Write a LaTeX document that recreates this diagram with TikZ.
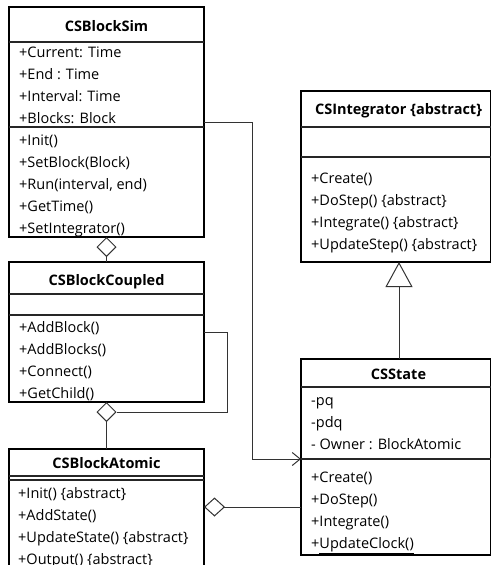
\documentclass[tikz,border=0pt]{standalone}
\usepackage{fontspec}
\setmainfont{Open Sans}
\usetikzlibrary{arrows.meta}
\begin{document}
\begin{tikzpicture}[x=1bp,y=-1bp,
  box/.style={draw=black, line width=1.8bp, inner sep=0pt, outer sep=0pt, anchor=north west},
  sep/.style={draw=black!85, line width=1.2bp},
  ttl/.style={font=\fontsize{14.5bp}{17bp}\selectfont\bfseries, inner sep=0pt, anchor=base},
  txt/.style={font=\fontsize{14.5bp}{17bp}\selectfont, inner sep=0pt, anchor=base west},
  conn/.style={draw=black!80, line width=1bp},
  agg/.style={conn, -{Diamond[open, length=20bp, width=20bp]}},
  aggh/.style={conn, -{Diamond[open, length=21bp, width=19bp]}},
  gen/.style={conn, -{Triangle[open, length=25bp, width=27bp]}},
  assoc/.style={conn, -{Straight Barb[length=8bp, width=13bp]}}
]
\useasboundingbox (0,0) rectangle (492,565);
\clip (0,0) rectangle (492,565);

% ---------- CSBlockSim ----------
\node[box, minimum width=195bp, minimum height=230bp] (sim) at (9,7) {};
\draw[sep] (sim.west |- 0,42) -- (sim.east |- 0,42);
\draw[sep] (sim.west |- 0,127) -- (sim.east |- 0,127);
\node[ttl] (simT) at (106.5,32) {CSBlockSim};
\node[txt] (sim1) at (19,57.5) {+Current: Time};
\node[txt] (sim2) at (19,79.5) {+End : Time};
\node[txt] (sim3) at (19,101.5) {+Interval: Time};
\node[txt] (sim4) at (19,123.5) {+Blocks: Block};
\node[txt] (sim5) at (19,145.5) {+Init()};
\node[txt] (sim6) at (19,167.5) {+SetBlock(Block)};
\node[txt] (sim7) at (19,189.5) {+Run(interval, end)};
\node[txt] (sim8) at (19,211.5) {+GetTime()};
\node[txt] (sim9) at (19,233.5) {+SetIntegrator()};

% ---------- CSBlockCoupled ----------
\node[box, minimum width=195bp, minimum height=140bp] (coupled) at (9,262) {};
\draw[sep] (coupled.west |- 0,294) -- (coupled.east |- 0,294);
\draw[sep] (coupled.west |- 0,315) -- (coupled.east |- 0,315);
\node[ttl] (coupledT) at (106.5,285) {CSBlockCoupled};
\node[txt] (cp1) at (19,332) {+AddBlock()};
\node[txt] (cp2) at (19,354) {+AddBlocks()};
\node[txt] (cp3) at (19,376) {+Connect()};
\node[txt] (cp4) at (19,398) {+GetChild()};

% ---------- CSBlockAtomic ----------
\node[box, minimum width=195bp, minimum height=140bp] (atomic) at (9,449) {};
\draw[sep] (atomic.west |- 0,476) -- (atomic.east |- 0,476);
\draw[sep] (atomic.west |- 0,480) -- (atomic.east |- 0,480);
\node[ttl] (atomicT) at (106.5,468) {CSBlockAtomic};
\node[txt] (at1) at (18,498) {+Init() \{abstract\}};
\node[txt] (at2) at (18,520) {+AddState()};
\node[txt] (at3) at (18,542) {+UpdateState() \{abstract\}};
\node[txt] (at4) at (18,564) {+Output() \{abstract\}};

% ---------- CSIntegrator ----------
\node[box, minimum width=189.5bp, minimum height=171bp] (integ) at (301,91) {};
\draw[sep] (integ.west |- 0,127) -- (integ.east |- 0,127);
\draw[sep] (integ.west |- 0,157) -- (integ.east |- 0,157);
\node[ttl] (integT) at (398.5,115) {CSIntegrator \{abstract\}};
\node[txt] (in1) at (311,183) {+Create()};
\node[txt] (in2) at (311,205) {+DoStep() \{abstract\}};
\node[txt] (in3) at (311,227) {+Integrate() \{abstract\}};
\node[txt] (in4) at (311,249) {+UpdateStep() \{abstract\}};

% ---------- CSState ----------
\node[box, minimum width=189.5bp, minimum height=196bp] (state) at (301,359) {};
\draw[sep] (state.west |- 0,387) -- (state.east |- 0,387);
\draw[sep] (state.west |- 0,459) -- (state.east |- 0,459);
\node[ttl] (stateT) at (398.5,379) {CSState};
\node[txt] (st1) at (311,405) {-pq};
\node[txt] (st2) at (311,427) {-pdq};
\node[txt] (st3) at (311,449) {- Owner : BlockAtomic};
\node[txt] (st4) at (311,482) {+Create()};
\node[txt] (st5) at (311,504) {+DoStep()};
\node[txt] (st6) at (311,526) {+Integrate()};
\node[txt] (st7) at (311,548) {+\underline{UpdateClock()}};

% ---------- connectors ----------
\coordinate (b1) at (252,123);
\coordinate (t1) at (0,459);
\draw[assoc] (sim.east |- b1) -- (b1) |- (state.west |- t1);

\draw[agg] (coupled.north) -- (sim.south);
\draw[agg] (atomic.north) -- (coupled.south);

\coordinate (lp1) at (227,332);
\coordinate (lp2) at (227,412);
\coordinate (dmR) at (117,412);
\draw[conn] (coupled.east |- lp1) -- (lp1) -- (lp2) -- (dmR);

\coordinate (as) at (0,507);
\draw[aggh] (state.west |- as) -- (atomic.east |- as);

\coordinate (gx) at (399,0);
\draw[gen] (state.north -| gx) -- (integ.south -| gx);
\end{tikzpicture}
\end{document}
